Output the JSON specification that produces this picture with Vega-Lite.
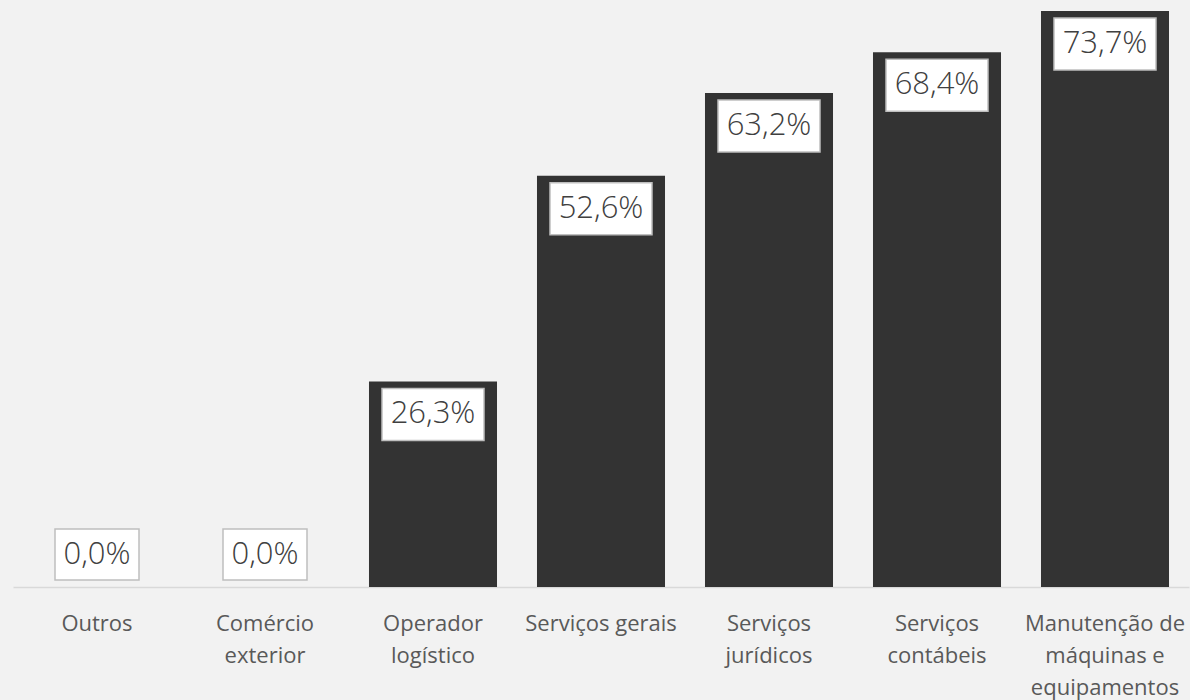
{
  "$schema": "https://vega.github.io/schema/vega-lite/v6.json",
  "width": 1176,
  "height": 587,
  "autosize": "none",
  "padding": {"left": 13, "top": 0, "right": 1, "bottom": 113},
  "background": "#f2f2f2",
  "config": {
    "view": {"stroke": null},
    "locale": {"number": {"decimal": ",", "thousands": ".", "grouping": [3], "currency": ["R$ ", ""]}}
  },
  "data": {
    "values": [
      {"cat": "Outros", "v": 0.0},
      {"cat": "Comércio\nexterior", "v": 0.0},
      {"cat": "Operador\nlogístico", "v": 0.263},
      {"cat": "Serviços gerais", "v": 0.526},
      {"cat": "Serviços\njurídicos", "v": 0.632},
      {"cat": "Serviços\ncontábeis", "v": 0.684},
      {"cat": "Manutenção de\nmáquinas e\nequipamentos", "v": 0.737}
    ]
  },
  "encoding": {
    "x": {
      "field": "cat",
      "type": "nominal",
      "sort": null,
      "scale": {"paddingInner": 0.238, "paddingOuter": 0.119},
      "axis": {
        "title": null,
        "domainColor": "#d9d9d9",
        "domainWidth": 1.5,
        "ticks": false,
        "labelAngle": 0,
        "labelFont": "Open Sans",
        "labelFontSize": 22,
        "labelColor": "#595959",
        "labelPadding": 26,
        "labelLineHeight": 32,
        "labelLimit": 300,
        "labelOverlap": false,
        "labelExpr": "split(datum.label, '\\n')"
      }
    }
  },
  "layer": [
    {
      "mark": {"type": "bar", "color": "#333333"},
      "encoding": {
        "y": {"field": "v", "type": "quantitative", "scale": {"domain": [0, 0.751], "nice": false}, "axis": null}
      }
    },
    {
      "transform": [{"filter": "datum.v > 0"}],
      "mark": {"type": "bar", "fill": "white", "stroke": "#bfbfbf", "strokeWidth": 1.5, "width": 102, "yOffset": 7, "y2Offset": 59},
      "encoding": {
        "y": {"field": "v", "type": "quantitative"},
        "y2": {"field": "v"}
      }
    },
    {
      "transform": [{"filter": "datum.v == 0"}],
      "mark": {"type": "bar", "fill": "white", "stroke": "#bfbfbf", "strokeWidth": 1.5, "width": 84, "yOffset": -58, "y2Offset": -7},
      "encoding": {
        "y": {"field": "v", "type": "quantitative"},
        "y2": {"field": "v"}
      }
    },
    {
      "transform": [{"filter": "datum.v > 0"}],
      "mark": {"type": "text", "font": "Open Sans", "fontSize": 31, "fontWeight": 300, "color": "#404040", "baseline": "middle", "dy": 33},
      "encoding": {
        "y": {"field": "v", "type": "quantitative"},
        "text": {"field": "v", "type": "quantitative", "format": ".1%"}
      }
    },
    {
      "transform": [{"filter": "datum.v == 0"}],
      "mark": {"type": "text", "font": "Open Sans", "fontSize": 31, "fontWeight": 300, "color": "#404040", "baseline": "middle", "dy": -32},
      "encoding": {
        "y": {"field": "v", "type": "quantitative"},
        "text": {"field": "v", "type": "quantitative", "format": ".1%"}
      }
    }
  ]
}
